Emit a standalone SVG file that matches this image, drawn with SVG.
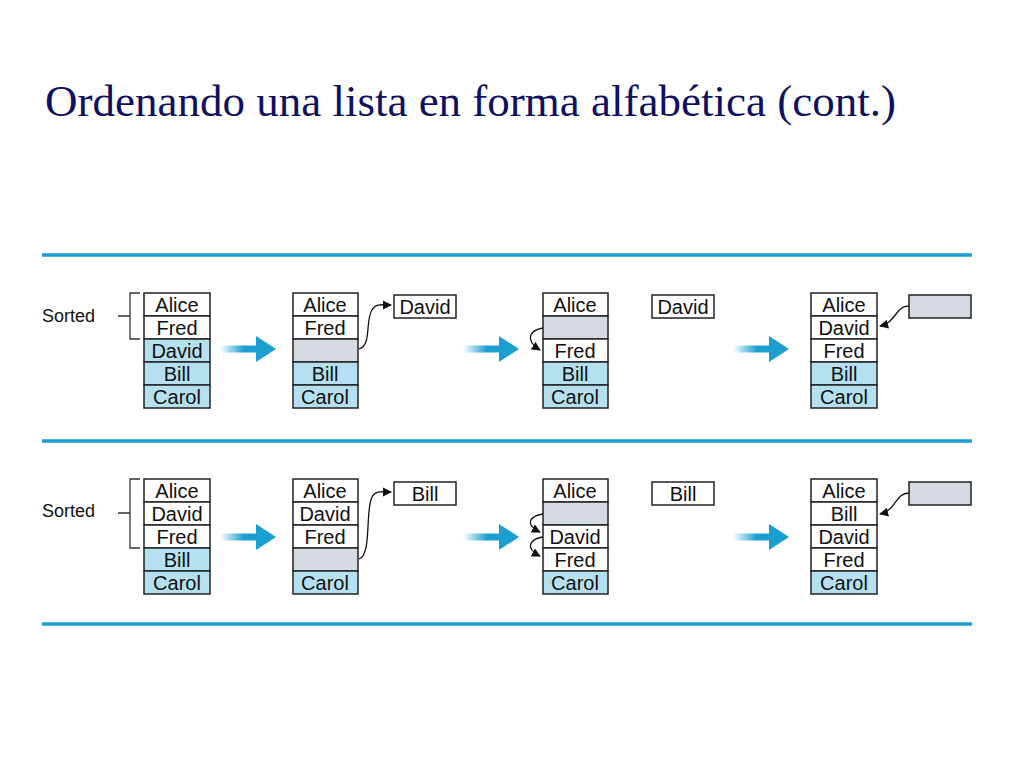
<svg xmlns="http://www.w3.org/2000/svg" width="1024" height="768" viewBox="0 0 1024 768">
<defs>
<style>
.t{font-family:"Liberation Sans",Arial,sans-serif;font-size:20px;fill:#111;text-anchor:middle}
.w{fill:#fff;stroke:#222;stroke-width:1.5}
.b{fill:#b5e0f0;stroke:#222;stroke-width:1.5}
.g{fill:#d5dbe0;stroke:#222;stroke-width:1.5}
.sep{stroke:#1a9fd0;stroke-width:3.5}
.c{fill:none;stroke:#111;stroke-width:1.3;marker-end:url(#ah)}
.br{fill:none;stroke:#333;stroke-width:1.3}
</style>
<marker id="ah" viewBox="0 0 10 10" refX="9" refY="5" markerWidth="7" markerHeight="7" orient="auto"><path d="M0,0L10,5L0,10z" fill="#111"/></marker>
<linearGradient id="gr" x1="0" x2="1"><stop offset="0" stop-color="#1a9fd0" stop-opacity="0"/><stop offset="0.6" stop-color="#1a9fd0"/></linearGradient>
<g id="bigarrow"><rect x="0" y="-3.5" width="40" height="7" fill="url(#gr)"/><path d="M36,-13L56,0L36,13z" fill="#1a9fd0"/></g>
</defs>
<rect width="1024" height="768" fill="#fff"/>
<text x="45" y="116" font-family="Liberation Serif,serif" font-size="45" fill="#101060">Ordenando una lista en forma alfabética (cont.)</text>
<g id="separators">
<line class="sep" x1="42" y1="255" x2="972" y2="255"/>
<line class="sep" x1="42" y1="441" x2="972" y2="441"/>
<line class="sep" x1="42" y1="624" x2="972" y2="624"/>
</g>
<g id="row1">
<text x="42" y="322" font-family="Liberation Sans,Arial,sans-serif" font-size="18" fill="#111">Sorted</text>
<path class="br" d="M118,316H130M140,293H130V339H140"/>
<g id="r1c1">
<rect class="w" x="144" y="293" width="66" height="23"/><text class="t" x="177" y="312">Alice</text>
<rect class="w" x="144" y="316" width="66" height="23"/><text class="t" x="177" y="335">Fred</text>
<rect class="b" x="144" y="339" width="66" height="23"/><text class="t" x="177" y="358">David</text>
<rect class="b" x="144" y="362" width="66" height="23"/><text class="t" x="177" y="381">Bill</text>
<rect class="b" x="144" y="385" width="66" height="23"/><text class="t" x="177" y="404">Carol</text>
</g>
<use href="#bigarrow" x="220" y="349"/>
<g id="r1c2">
<rect class="w" x="293" y="293" width="65" height="23"/><text class="t" x="325" y="312">Alice</text>
<rect class="w" x="293" y="316" width="65" height="23"/><text class="t" x="325" y="335">Fred</text>
<rect class="g" x="293" y="339" width="65" height="23"/>
<rect class="b" x="293" y="362" width="65" height="23"/><text class="t" x="325" y="381">Bill</text>
<rect class="b" x="293" y="385" width="65" height="23"/><text class="t" x="325" y="404">Carol</text>
<rect class="w" x="394" y="295" width="62" height="23"/><text class="t" x="425" y="314">David</text>
</g>
<use href="#bigarrow" x="463" y="349"/>
<g id="r1c3">
<rect class="w" x="543" y="293" width="65" height="23"/><text class="t" x="575" y="312">Alice</text>
<rect class="g" x="543" y="316" width="65" height="23"/>
<rect class="w" x="543" y="339" width="65" height="23"/><text class="t" x="575" y="358">Fred</text>
<rect class="b" x="543" y="362" width="65" height="23"/><text class="t" x="575" y="381">Bill</text>
<rect class="b" x="543" y="385" width="65" height="23"/><text class="t" x="575" y="404">Carol</text>
<rect class="w" x="652" y="295" width="62" height="23"/><text class="t" x="683" y="314">David</text>
</g>
<use href="#bigarrow" x="733" y="349"/>
<g id="r1c4">
<rect class="w" x="811" y="293" width="66" height="23"/><text class="t" x="844" y="312">Alice</text>
<rect class="w" x="811" y="316" width="66" height="23"/><text class="t" x="844" y="335">David</text>
<rect class="w" x="811" y="339" width="66" height="23"/><text class="t" x="844" y="358">Fred</text>
<rect class="b" x="811" y="362" width="66" height="23"/><text class="t" x="844" y="381">Bill</text>
<rect class="b" x="811" y="385" width="66" height="23"/><text class="t" x="844" y="404">Carol</text>
<rect class="g" x="909" y="295" width="62" height="23"/>
</g>
</g>
<g id="row2">
<text x="42" y="517" font-family="Liberation Sans,Arial,sans-serif" font-size="18" fill="#111">Sorted</text>
<path class="br" d="M118,513H130M140,479H130V548H140"/>
<g id="r2c1">
<rect class="w" x="144" y="479" width="66" height="23"/><text class="t" x="177" y="498">Alice</text>
<rect class="w" x="144" y="502" width="66" height="23"/><text class="t" x="177" y="521">David</text>
<rect class="w" x="144" y="525" width="66" height="23"/><text class="t" x="177" y="544">Fred</text>
<rect class="b" x="144" y="548" width="66" height="23"/><text class="t" x="177" y="567">Bill</text>
<rect class="b" x="144" y="571" width="66" height="23"/><text class="t" x="177" y="590">Carol</text>
</g>
<use href="#bigarrow" x="220" y="537"/>
<g id="r2c2">
<rect class="w" x="293" y="479" width="65" height="23"/><text class="t" x="325" y="498">Alice</text>
<rect class="w" x="293" y="502" width="65" height="23"/><text class="t" x="325" y="521">David</text>
<rect class="w" x="293" y="525" width="65" height="23"/><text class="t" x="325" y="544">Fred</text>
<rect class="g" x="293" y="548" width="65" height="23"/>
<rect class="b" x="293" y="571" width="65" height="23"/><text class="t" x="325" y="590">Carol</text>
<rect class="w" x="394" y="482" width="62" height="23"/><text class="t" x="425" y="501">Bill</text>
</g>
<use href="#bigarrow" x="463" y="537"/>
<g id="r2c3">
<rect class="w" x="543" y="479" width="65" height="23"/><text class="t" x="575" y="498">Alice</text>
<rect class="g" x="543" y="502" width="65" height="23"/>
<rect class="w" x="543" y="525" width="65" height="23"/><text class="t" x="575" y="544">David</text>
<rect class="w" x="543" y="548" width="65" height="23"/><text class="t" x="575" y="567">Fred</text>
<rect class="b" x="543" y="571" width="65" height="23"/><text class="t" x="575" y="590">Carol</text>
<rect class="w" x="652" y="482" width="62" height="23"/><text class="t" x="683" y="501">Bill</text>
</g>
<use href="#bigarrow" x="733" y="537"/>
<g id="r2c4">
<rect class="w" x="811" y="479" width="66" height="23"/><text class="t" x="844" y="498">Alice</text>
<rect class="w" x="811" y="502" width="66" height="23"/><text class="t" x="844" y="521">Bill</text>
<rect class="w" x="811" y="525" width="66" height="23"/><text class="t" x="844" y="544">David</text>
<rect class="w" x="811" y="548" width="66" height="23"/><text class="t" x="844" y="567">Fred</text>
<rect class="b" x="811" y="571" width="66" height="23"/><text class="t" x="844" y="590">Carol</text>
<rect class="g" x="909" y="482" width="62" height="23"/>
</g>
</g>
<g id="connectors">
<path class="c" d="M359,349C372,345 365,320 372,310C376,303 382,305 391,305"/>
<path class="c" d="M543,328C530,330 524,340 540,350"/>
<path class="c" d="M909,306C895,306 897,322 880,326"/>
<path class="c" d="M359,559C372,555 365,510 372,497C376,490 382,492 391,492"/>
<path class="c" d="M543,514C530,516 524,524 540,532"/>
<path class="c" d="M543,537C530,539 524,548 540,556"/>
<path class="c" d="M909,493C895,493 897,510 880,514"/>
</g>
</svg>
